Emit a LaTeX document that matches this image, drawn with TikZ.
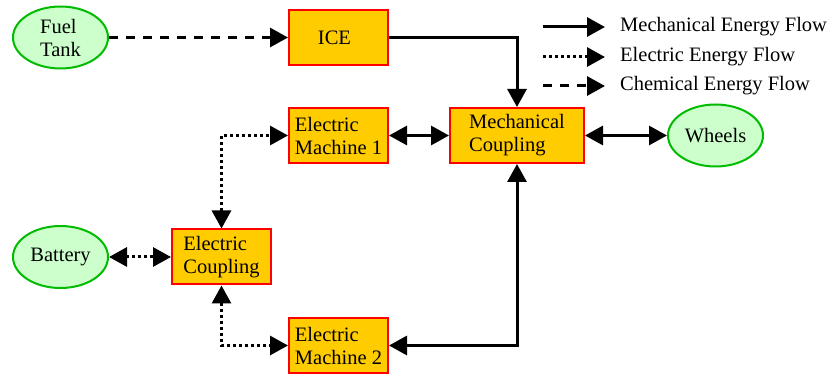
\documentclass[tikz,border=0pt]{standalone}
\usepackage{fontspec}
\setmainfont{Liberation Serif}
\usetikzlibrary{arrows.meta,shapes.geometric}
\definecolor{boxfill}{HTML}{FFCC00}
\definecolor{boxline}{HTML}{FF0000}
\definecolor{ellfill}{HTML}{CCFFCC}
\definecolor{ellline}{HTML}{00BB00}
\begin{document}
\begin{tikzpicture}[x=1pt,y=-1pt,
  every node/.style={font=\fontsize{20.5}{23}\selectfont},
  blockbox/.style={draw=boxline,fill=boxfill,line width=2pt,rectangle,minimum width=99pt,minimum height=55pt,align=left,inner sep=2pt},
  endell/.style={draw=ellline,fill=ellfill,line width=2pt,ellipse,minimum width=95pt,minimum height=62pt,align=left,inner sep=1pt},
  mech/.style={line width=3pt,>={Triangle[length=18pt,width=19pt]}},
  elec/.style={line width=3pt,dash pattern=on 3pt off 3pt,>={Triangle[length=18pt,width=19pt]}},
  chem/.style={line width=3pt,dash pattern=on 9pt off 8pt,>={Triangle[length=18pt,width=19pt]}},
  legtext/.style={anchor=west,inner sep=0pt}
]
\useasboundingbox (0,0) rectangle (831,374);
\node[endell] (ft) at (60.5,37.5) {Fuel\\Tank};
\node[blockbox] (ice) at (338.5,37.5) {ICE\hspace{8pt}};
\node[blockbox] (em1) at (338.5,135.5) {Electric\\Machine 1};
\node[blockbox,minimum width=134pt] (mc) at (517,135.5) {Mechanical\hspace{10pt}\\Coupling};
\node[endell] (wh) at (715.5,135.5) {Wheels};
\node[endell] (bat) at (60.5,257) {Battery};
\node[blockbox] (ec) at (221.5,257) {Electric\\Coupling};
\node[blockbox] (em2) at (338.5,345.5) {Electric\\Machine 2};

\draw[chem,->] (ft.east) -- (ice.west);
\draw[mech,->] (ice.east) -| (mc.north);
\draw[mech,<->] (em1.east) -- (mc.west);
\draw[mech,<->] (mc.east) -- (wh.west);
\draw[mech,<->] (em2.east) -| (mc.south);
\draw[elec,<->] (ec.north) |- (em1.west);
\draw[elec,<->] (ec.south) |- (em2.west);
\draw[elec,<->] (bat.east) -- (ec.west);

\coordinate (la1) at (543,27); \coordinate (lb1) at (605,27);
\coordinate (la2) at (543,57); \coordinate (lb2) at (605,57);
\coordinate (la3) at (543,86); \coordinate (lb3) at (605,86);
\draw[mech,->] (la1) -- (lb1);
\draw[elec,->] (la2) -- (lb2);
\draw[chem,->] (la3) -- (lb3);
\node[legtext] (t1) at (620,27) {Mechanical Energy Flow};
\node[legtext] (t2) at (620,57) {Electric Energy Flow};
\node[legtext] (t3) at (620,86) {Chemical Energy Flow};
\end{tikzpicture}
\end{document}
